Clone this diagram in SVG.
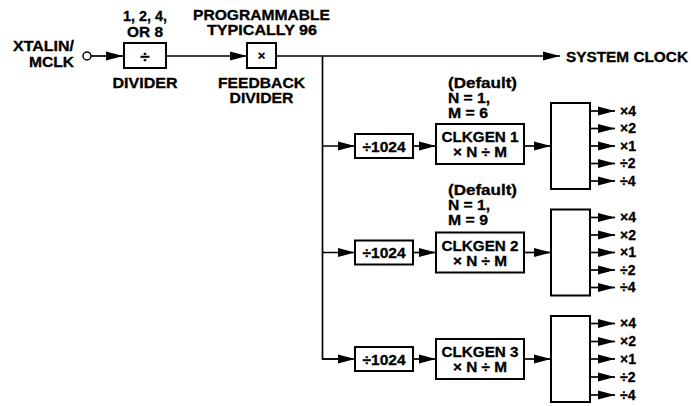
<svg xmlns="http://www.w3.org/2000/svg" width="691" height="406" viewBox="0 0 691 406">
<style>
text{font-family:"Liberation Sans",Arial,sans-serif;font-weight:bold;font-size:14px;fill:#000;stroke:#000;stroke-width:0.3}
.c{text-anchor:middle}
.r{text-anchor:end}
.box{fill:#fff;stroke:#000;stroke-width:2}
.ln{fill:none;stroke:#000;stroke-width:1.7}
.ar{fill:none;stroke:#000;stroke-width:1.7;marker-end:url(#ah)}
</style>
<defs>
<marker id="ah" markerUnits="userSpaceOnUse" markerWidth="18" markerHeight="10" refX="17" refY="4.5" orient="auto" overflow="visible">
<path d="M0,0 L17,4.5 L0,9 z" fill="#000"/>
</marker>
</defs>
<g id="connectors">
<line class="ar" x1="91" y1="56" x2="123" y2="56"/>
<line class="ar" x1="166" y1="56" x2="247" y2="56"/>
<line class="ar" x1="276" y1="56" x2="560" y2="56"/>
<polyline class="ln" points="322.5,56 322.5,359 340,359"/>
<line class="ar" x1="322.5" y1="146" x2="355" y2="146"/>
<line class="ar" x1="322.5" y1="252.5" x2="355" y2="252.5"/>
<line class="ar" x1="322" y1="359" x2="355" y2="359"/>
<line class="ar" x1="413" y1="146" x2="436" y2="146"/>
<line class="ar" x1="413" y1="252.5" x2="436" y2="252.5"/>
<line class="ar" x1="413" y1="359" x2="436" y2="359"/>
<line class="ar" x1="524" y1="146" x2="551" y2="146"/>
<line class="ar" x1="524" y1="252.5" x2="551" y2="252.5"/>
<line class="ar" x1="524" y1="359" x2="551" y2="359"/>
<g id="outputs1">
<line class="ar" x1="590" y1="111" x2="615" y2="111"/>
<line class="ar" x1="590" y1="128.5" x2="615" y2="128.5"/>
<line class="ar" x1="590" y1="146" x2="615" y2="146"/>
<line class="ar" x1="590" y1="163.5" x2="615" y2="163.5"/>
<line class="ar" x1="590" y1="181" x2="615" y2="181"/>
</g>
<g id="outputs2">
<line class="ar" x1="590" y1="217.5" x2="615" y2="217.5"/>
<line class="ar" x1="590" y1="235" x2="615" y2="235"/>
<line class="ar" x1="590" y1="252.5" x2="615" y2="252.5"/>
<line class="ar" x1="590" y1="270" x2="615" y2="270"/>
<line class="ar" x1="590" y1="287.5" x2="615" y2="287.5"/>
</g>
<g id="outputs3">
<line class="ar" x1="590" y1="323.5" x2="615" y2="323.5"/>
<line class="ar" x1="590" y1="341.5" x2="615" y2="341.5"/>
<line class="ar" x1="590" y1="359" x2="615" y2="359"/>
<line class="ar" x1="590" y1="377" x2="615" y2="377"/>
<line class="ar" x1="590" y1="395" x2="615" y2="395"/>
</g>
</g>
<g id="input">
<circle cx="87" cy="56" r="4" fill="#fff" stroke="#000" stroke-width="1.5"/>
<text class="r" x="74" y="51" textLength="61" lengthAdjust="spacingAndGlyphs">XTALIN/</text>
<text class="r" x="74" y="67" textLength="45" lengthAdjust="spacingAndGlyphs">MCLK</text>
</g>
<g id="divider">
<rect class="box" x="124" y="43" width="42" height="25"/>
<text class="c" x="145" y="62" style="font-size:17px">÷</text>
<text class="c" x="145" y="21" textLength="44" lengthAdjust="spacingAndGlyphs">1, 2, 4,</text>
<text class="c" x="145" y="37" textLength="36" lengthAdjust="spacingAndGlyphs">OR 8</text>
<text class="c" x="145" y="88" textLength="65" lengthAdjust="spacingAndGlyphs">DIVIDER</text>
</g>
<g id="feedback">
<rect class="box" x="247" y="43" width="29" height="25"/>
<text class="c" x="261.5" y="60" style="font-size:13px">×</text>
<text class="c" x="261.5" y="20" textLength="137" lengthAdjust="spacingAndGlyphs">PROGRAMMABLE</text>
<text class="c" x="262" y="35" textLength="110" lengthAdjust="spacingAndGlyphs">TYPICALLY 96</text>
<text class="c" x="261.5" y="88" textLength="87" lengthAdjust="spacingAndGlyphs">FEEDBACK</text>
<text class="c" x="261.5" y="103" textLength="64" lengthAdjust="spacingAndGlyphs">DIVIDER</text>
</g>
<g id="sysclk">
<text x="566" y="62" textLength="122" lengthAdjust="spacingAndGlyphs">SYSTEM CLOCK</text>
</g>
<g id="pre1">
<rect class="box" x="355" y="134" width="58" height="24"/>
<text class="c" x="384" y="151.5" textLength="43" lengthAdjust="spacingAndGlyphs">÷1024</text>
</g>
<g id="pre2">
<rect class="box" x="355" y="240.5" width="58" height="24"/>
<text class="c" x="384" y="258" textLength="43" lengthAdjust="spacingAndGlyphs">÷1024</text>
</g>
<g id="pre3">
<rect class="box" x="355" y="347" width="58" height="24"/>
<text class="c" x="384" y="364.5" textLength="43" lengthAdjust="spacingAndGlyphs">÷1024</text>
</g>
<g id="clkgen1">
<rect class="box" x="436" y="124" width="88" height="40"/>
<text class="c" x="480" y="142" textLength="77" lengthAdjust="spacingAndGlyphs">CLKGEN 1</text>
<text class="c" x="480" y="157" textLength="54" lengthAdjust="spacingAndGlyphs">× N ÷ M</text>
<text x="448" y="88" textLength="69" lengthAdjust="spacingAndGlyphs">(Default)</text>
<text x="448" y="103" textLength="42" lengthAdjust="spacingAndGlyphs">N = 1,</text>
<text x="448" y="118" textLength="40" lengthAdjust="spacingAndGlyphs">M = 6</text>
</g>
<g id="clkgen2">
<rect class="box" x="436" y="232.5" width="88" height="40"/>
<text class="c" x="480" y="250.5" textLength="77" lengthAdjust="spacingAndGlyphs">CLKGEN 2</text>
<text class="c" x="480" y="265.5" textLength="54" lengthAdjust="spacingAndGlyphs">× N ÷ M</text>
<text x="448" y="195" textLength="69" lengthAdjust="spacingAndGlyphs">(Default)</text>
<text x="448" y="210" textLength="42" lengthAdjust="spacingAndGlyphs">N = 1,</text>
<text x="448" y="225" textLength="40" lengthAdjust="spacingAndGlyphs">M = 9</text>
</g>
<g id="clkgen3">
<rect class="box" x="436" y="339" width="88" height="40"/>
<text class="c" x="480" y="357" textLength="77" lengthAdjust="spacingAndGlyphs">CLKGEN 3</text>
<text class="c" x="480" y="372" textLength="54" lengthAdjust="spacingAndGlyphs">× N ÷ M</text>
</g>
<g id="out1">
<rect class="box" x="551" y="103" width="39" height="86"/>
<text x="620" y="115.5">×4</text>
<text x="620" y="133">×2</text>
<text x="620" y="150.5">×1</text>
<text x="620" y="168">÷2</text>
<text x="620" y="185.5">÷4</text>
</g>
<g id="out2">
<rect class="box" x="551" y="209.5" width="39" height="86"/>
<text x="620" y="222">×4</text>
<text x="620" y="239.5">×2</text>
<text x="620" y="257">×1</text>
<text x="620" y="274.5">÷2</text>
<text x="620" y="292">÷4</text>
</g>
<g id="out3">
<rect class="box" x="551" y="316" width="39" height="86"/>
<text x="620" y="328">×4</text>
<text x="620" y="346">×2</text>
<text x="620" y="363.5">×1</text>
<text x="620" y="381.5">÷2</text>
<text x="620" y="399.5">÷4</text>
</g>
</svg>
